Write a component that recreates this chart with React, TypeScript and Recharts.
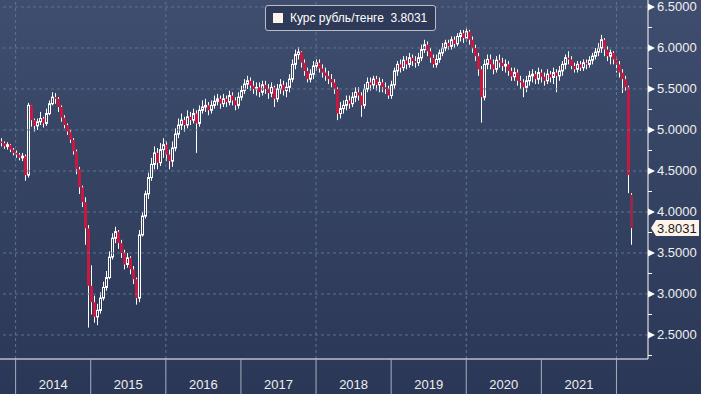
import { Bar, ComposedChart, ReferenceLine, XAxis, YAxis } from "recharts";

// roughly two-week candles, RUB/KZT
const START = 2013.8;
const STEP = 0.04;
const FIRST_OPEN = 4.86;
const openOverrides: Record<number, number> = { 210: 4.21 };

const closes = [
  4.84, 4.8, 4.82, 4.76, 4.72, 4.7, 4.66, 4.68, 4.45, 5.3,
  5.12, 5.05, 5.1, 5.14, 5.08, 5.2, 5.32, 5.4, 5.38, 5.28,
  5.15, 5.06, 4.98, 4.88, 4.74, 4.52, 4.3, 4.12, 3.8, 3.1,
  2.9, 2.72, 2.8, 2.95, 3.08, 3.2, 3.45, 3.68, 3.76, 3.62,
  3.5, 3.36, 3.44, 3.3, 3.18, 2.95, 3.72, 3.95, 4.22, 4.42,
  4.58, 4.72, 4.6, 4.76, 4.82, 4.7, 4.62, 4.78, 4.95, 5.06,
  5.12, 5.06, 5.16, 5.12, 5.2, 5.08, 5.24, 5.28, 5.3, 5.24,
  5.3, 5.35, 5.38, 5.32, 5.38, 5.34, 5.42, 5.36, 5.3, 5.4,
  5.48, 5.56, 5.6, 5.54, 5.5, 5.52, 5.46, 5.55, 5.5, 5.45,
  5.52, 5.38, 5.5, 5.55, 5.48, 5.52, 5.62, 5.8, 5.92, 5.95,
  5.82, 5.72, 5.62, 5.68, 5.78, 5.82, 5.75, 5.7, 5.66, 5.62,
  5.58, 5.5, 5.2, 5.26, 5.3, 5.36, 5.32, 5.4, 5.46, 5.42,
  5.3, 5.5, 5.58, 5.55, 5.62, 5.55, 5.58, 5.52, 5.5, 5.42,
  5.55, 5.72, 5.8, 5.76, 5.85, 5.8, 5.88, 5.84, 5.82, 5.88,
  5.98, 6.04, 5.96, 5.88, 5.8, 5.86, 5.94, 6.0, 6.06, 6.02,
  6.1, 6.05, 6.14, 6.18, 6.12, 6.2, 6.1, 6.0, 5.9, 5.74,
  5.4, 5.8, 5.86, 5.8, 5.74, 5.85, 5.82, 5.78, 5.8, 5.72,
  5.65, 5.7, 5.6, 5.58, 5.52, 5.6, 5.66, 5.68, 5.62, 5.7,
  5.65, 5.6, 5.68, 5.64, 5.7, 5.66, 5.72, 5.8, 5.88, 5.86,
  5.78, 5.74, 5.8, 5.76, 5.82, 5.8, 5.85, 5.9, 5.95, 6.0,
  6.1, 5.98, 5.9, 5.94, 5.86, 5.8, 5.7, 5.62, 5.52, 4.45,
  3.8031,
];

const highs = [
  4.9, 4.86, 4.85, 4.83, 4.78, 4.75, 4.72, 4.72, 4.7, 5.33,
  5.3, 5.14, 5.14, 5.22, 5.16, 5.26, 5.36, 5.46, 5.45, 5.4,
  5.3, 5.18, 5.08, 5.0, 4.9, 4.76, 4.55, 4.32, 4.18, 3.84,
  3.35, 2.98, 2.88, 3.02, 3.15, 3.28, 3.52, 3.74, 3.82, 3.78,
  3.66, 3.54, 3.5, 3.46, 3.34, 3.2, 3.78, 4.0, 4.26, 4.48,
  4.66, 4.8, 4.78, 4.84, 4.9, 4.86, 4.76, 4.86, 5.02, 5.14,
  5.2, 5.16, 5.24, 5.22, 5.26, 5.24, 5.3, 5.36, 5.38, 5.34,
  5.36, 5.42, 5.44, 5.42, 5.44, 5.42, 5.48, 5.46, 5.4, 5.46,
  5.54, 5.62, 5.66, 5.64, 5.6, 5.58, 5.58, 5.6, 5.6, 5.56,
  5.58, 5.54, 5.56, 5.62, 5.6, 5.58, 5.68, 5.86, 5.98, 6.01,
  5.96, 5.86, 5.76, 5.74, 5.84, 5.86, 5.86, 5.8, 5.76, 5.72,
  5.68, 5.62, 5.52, 5.34, 5.36, 5.42, 5.42, 5.46, 5.52, 5.52,
  5.46, 5.56, 5.64, 5.64, 5.66, 5.66, 5.64, 5.62, 5.58, 5.54,
  5.6, 5.76, 5.84, 5.86, 5.9, 5.9, 5.94, 5.92, 5.9, 5.94,
  6.04, 6.1, 6.08, 6.0, 5.92, 5.92, 5.98, 6.06, 6.1, 6.1,
  6.14, 6.14, 6.18, 6.22, 6.22, 6.25, 6.22, 6.14, 6.04, 5.94,
  5.78, 5.86, 5.92, 5.92, 5.86, 5.9, 5.92, 5.88, 5.86, 5.84,
  5.76, 5.76, 5.74, 5.66, 5.62, 5.66, 5.72, 5.74, 5.72, 5.76,
  5.74, 5.7, 5.74, 5.72, 5.76, 5.74, 5.78, 5.84, 5.92, 5.96,
  5.9, 5.82, 5.84, 5.84, 5.86, 5.86, 5.9, 5.94, 6.0, 6.06,
  6.16, 6.12, 6.02, 5.98, 5.96, 5.9, 5.84, 5.74, 5.66, 5.54,
  4.23,
];

const lows = [
  4.8, 4.77, 4.76, 4.73, 4.69, 4.66, 4.63, 4.62, 4.38, 4.42,
  5.04, 4.98, 5.0, 5.06, 5.03, 5.05, 5.18, 5.3, 5.32, 5.22,
  5.1, 5.02, 4.94, 4.84, 4.7, 4.46, 4.22, 4.06, 3.6, 2.59,
  2.75, 2.65, 2.62, 2.76, 2.92, 3.04, 3.18, 3.42, 3.62, 3.55,
  3.44, 3.3, 3.32, 3.24, 3.12, 2.87, 2.9, 3.7, 3.92, 4.16,
  4.38, 4.52, 4.52, 4.56, 4.66, 4.62, 4.52, 4.55, 4.74, 4.9,
  5.0, 4.98, 5.02, 5.06, 5.08, 4.72, 5.04, 5.2, 5.22, 5.18,
  5.2, 5.26, 5.3, 5.26, 5.28, 5.28, 5.3, 5.3, 5.24, 5.26,
  5.36, 5.44, 5.5, 5.48, 5.44, 5.42, 5.4, 5.42, 5.44, 5.38,
  5.4, 5.28, 5.34, 5.44, 5.42, 5.4, 5.46, 5.58, 5.74, 5.86,
  5.76, 5.66, 5.58, 5.58, 5.62, 5.72, 5.7, 5.64, 5.6, 5.56,
  5.52, 5.44, 5.12, 5.14, 5.2, 5.24, 5.26, 5.28, 5.34, 5.36,
  5.16, 5.26, 5.46, 5.48, 5.5, 5.48, 5.46, 5.46, 5.44, 5.38,
  5.38, 5.5, 5.66, 5.7, 5.72, 5.74, 5.76, 5.78, 5.76, 5.78,
  5.84, 5.94, 5.9, 5.82, 5.76, 5.76, 5.82, 5.9, 5.96, 5.98,
  5.98, 6.0, 6.02, 6.08, 6.06, 6.08, 6.04, 5.94, 5.84, 5.66,
  5.09, 5.36, 5.74, 5.74, 5.68, 5.7, 5.76, 5.72, 5.7, 5.66,
  5.6, 5.6, 5.54, 5.5, 5.4, 5.46, 5.54, 5.58, 5.56, 5.56,
  5.58, 5.54, 5.56, 5.58, 5.56, 5.46, 5.6, 5.66, 5.74, 5.8,
  5.74, 5.7, 5.7, 5.72, 5.72, 5.74, 5.76, 5.8, 5.86, 5.9,
  5.94, 5.9, 5.84, 5.8, 5.8, 5.7, 5.64, 5.45, 5.48, 4.23,
  3.6,
];

const MAJOR = [2.5, 3, 3.5, 4, 4.5, 5, 5.5, 6, 6.5];
const MINOR = [2.25, 2.75, 3.25, 3.75, 4.25, 4.75, 5.25, 5.75, 6.25];
const YEARS = [2014, 2015, 2016, 2017, 2018, 2019, 2020, 2021, 2022];
const GRID_YEARS = [2014, 2016, 2018, 2020, 2022];
const LAST_PRICE = 3.8031;
const SERIES_NAME = "Курс рубль/тенге";

const X_MIN = 2013.792;
const X_MAX = 2022.42;
const Y_MIN = 2.207;
const Y_MAX = 6.585;
const PLOT_W = 648;
const YEAR_PX = PLOT_W / (X_MAX - X_MIN);

const candles = closes.map((close, i) => {
  const open = openOverrides[i] ?? (i === 0 ? FIRST_OPEN : closes[i - 1]);
  return {
    t: START + i * STEP,
    open,
    close,
    high: highs[i],
    low: lows[i],
    range: [lows[i], highs[i]],
    last: i === closes.length - 1,
  };
});

const FONT = "'Liberation Sans', Arial, sans-serif";
const GRID = "#5d7494";

function Candle(props: any) {
  const { x, y, width, height, payload } = props;
  if (x == null || y == null) return null;
  const { open, close, high, low, last } = payload;
  const cx = Math.round(x + width / 2) + 0.5;
  const top = Math.min(y, y + height);
  const h = Math.abs(height);
  const py = (v: number) => top + ((high - v) / (high - low)) * h;
  const bTop = py(Math.max(open, close));
  const bBot = py(Math.min(open, close));
  const up = close >= open;
  if (up) {
    return (
      <g>
        <line x1={cx} x2={cx} y1={top} y2={bTop} stroke="#fff" />
        <line x1={cx} x2={cx} y1={bBot} y2={top + h} stroke="#fff" />
        <rect x={cx - 1} y={bTop} width={2} height={Math.max(bBot - bTop, 1)} fill="none" stroke="#fff" strokeWidth={1} />
      </g>
    );
  }
  return (
    <g>
      <line x1={cx} x2={cx} y1={top} y2={top + h} stroke="#fff" />
      <rect
        x={cx - 1.5}
        y={bTop}
        width={3}
        height={Math.max(bBot - bTop, 1)}
        fill={last ? "#8f2a4d" : "#c9183f"}
      />
    </g>
  );
}

function YTick(props: any) {
  const { x, y, payload } = props;
  const v = payload.value;
  if (!MAJOR.includes(v)) {
    return <line x1={x} x2={x + 4} y1={y} y2={y} stroke="#fff" />;
  }
  return (
    <g>
      <polygon points={`${x},${y - 3.5} ${x + 7},${y} ${x},${y + 3.5}`} fill="#fff" />
      <text x={x + 9} y={y} dy={4.5} fill="#f0f0f0" fontSize={13} fontFamily={FONT}>
        {v.toFixed(4)}
      </text>
    </g>
  );
}

function XTick(props: any) {
  const { x, y, payload } = props;
  const yr = payload.value;
  return (
    <g>
      <line x1={x} x2={x} y1={y} y2={y + 35} stroke="#a8afbe" />
      {yr < 2022 && (
        <text x={x + YEAR_PX / 2} y={y + 30} textAnchor="middle" fill="#eeeeee" fontSize={13} fontFamily={FONT}>
          {yr}
        </text>
      )}
    </g>
  );
}

function PriceTag(props: any) {
  const { viewBox } = props;
  const x = viewBox.x + viewBox.width + 3;
  const y = viewBox.y;
  return (
    <g>
      <polygon
        points={`${x},${y} ${x + 5},${y - 8} ${x + 48},${y - 8} ${x + 48},${y + 8} ${x + 5},${y + 8}`}
        fill="#fdf3ea"
      />
      <text x={x + 6} y={y} dy={4.5} fill="#1c1c1c" fontSize={13} fontFamily={FONT}>
        {LAST_PRICE.toFixed(4)}
      </text>
    </g>
  );
}

export default function App() {
  return (
    <div
      style={{
        position: "relative",
        width: 701,
        height: 394,
        background: "linear-gradient(#3f4d6e, #2a3756)",
      }}
    >
      <style>{"body{margin:0}"}</style>
      <ComposedChart width={701} height={394} data={candles} margin={{ top: 0, right: 0, bottom: 0, left: 0 }}>
        {GRID_YEARS.map((yr) => (
          <ReferenceLine key={yr} x={yr} stroke={GRID} strokeDasharray="3 3" />
        ))}
        {MAJOR.map((v) => (
          <ReferenceLine key={v} y={v} stroke={GRID} strokeDasharray="3 3" />
        ))}
        <XAxis
          dataKey="t"
          type="number"
          domain={[X_MIN, X_MAX]}
          ticks={YEARS}
          allowDataOverflow
          height={35}
          tickSize={0}
          tickMargin={0}
          tickLine={false}
          axisLine={{ stroke: "#fff" }}
          tick={<XTick />}
          interval={0}
        />
        <YAxis
          orientation="right"
          type="number"
          domain={[Y_MIN, Y_MAX]}
          ticks={[...MINOR, ...MAJOR]}
          allowDataOverflow
          width={53}
          tickSize={0}
          tickMargin={0}
          tickLine={false}
          axisLine={{ stroke: "#fff" }}
          tick={<YTick />}
          interval={0}
        />
        <Bar dataKey="range" barSize={3} shape={<Candle />} isAnimationActive={false} />
        <ReferenceLine y={LAST_PRICE} stroke="none" label={<PriceTag />} />
      </ComposedChart>
      <div
        style={{
          position: "absolute",
          left: 265,
          top: 5,
          height: 24,
          paddingRight: 8,
          border: "1px solid #b9bdc6",
          borderRadius: 3,
          background: "#2e3a57",
          display: "flex",
          alignItems: "center",
          whiteSpace: "nowrap",
          fontFamily: FONT,
          fontSize: 12,
          color: "#fff",
        }}
      >
        <span style={{ display: "inline-block", width: 10, height: 10, background: "#fdf3ea", marginLeft: 7, marginRight: 7 }} />
        <span>
          {SERIES_NAME}&nbsp;&nbsp;{LAST_PRICE.toFixed(4)}
        </span>
      </div>
    </div>
  );
}
